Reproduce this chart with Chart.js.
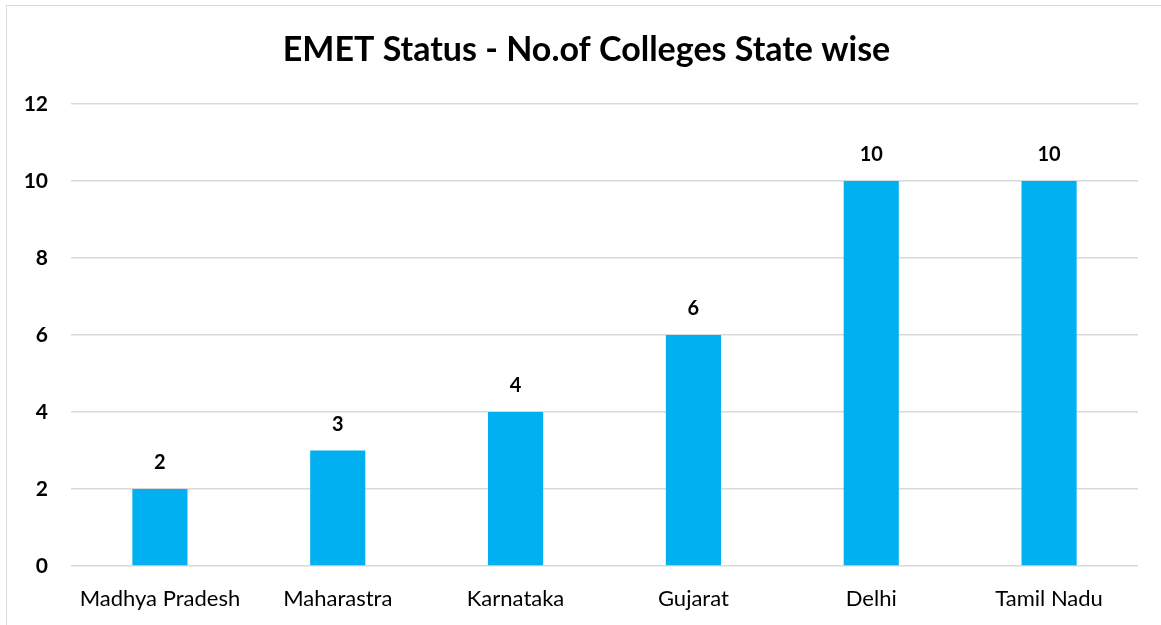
<!DOCTYPE html>
<html>
<head>
<meta charset="utf-8">
<script src="https://cdn.jsdelivr.net/npm/chart.js@4/dist/chart.umd.min.js"></script>
<style>
  html, body { margin: 0; padding: 0; background: #fff; overflow: hidden; }
  #frame { position: absolute; left: 6px; top: 5px; width: 1170px; height: 640px; border: 1px solid #d9d9d9; }
  #wrap { position: absolute; left: 0; top: 0; width: 1161px; height: 625px; }
</style>
</head>
<body>
<div id="frame"></div>
<div id="wrap"><canvas id="college-chart"></canvas></div>
<script>
// chart data
const chartTitle = 'EMET Status - No.of Colleges State wise'
const states = ["Madhya Pradesh", "Maharastra", "Karnataka", "Gujarat", "Delhi", "Tamil Nadu"]
const colleges = [2, 3, 4, 6, 10, 10]
const yTicks = [0, 2, 4, 6, 8, 10, 12]

// title centred on the outer frame, value labels above bars
const chartText = {
  id: 'chartText',
  afterDatasetsDraw(chart) {
    const ctx = chart.ctx
    const meta = chart.getDatasetMeta(0)
    ctx.save()
    ctx.fillStyle = '#000'
    ctx.textAlign = 'center'
    ctx.textBaseline = 'middle'
    ctx.font = 'bold 34px Lato'
    ctx.fillText(chartTitle, chart.width / 2 + 6, 50)
    ctx.font = 'bold 20px Lato'
    meta.data.forEach((bar, i) => {
      ctx.fillText(colleges[i], bar.x, bar.y - 26)
    })
    ctx.restore()
  }
}

new Chart(document.getElementById("college-chart"), {
  type: 'bar',
  data: {
    labels: states,
    datasets: [{
      data: colleges,
      backgroundColor: '#00B0F0',
      borderWidth: 0,
      categoryPercentage: 1,
      barPercentage: 0.31
    }]
  },
  options: {
    responsive: true,
    maintainAspectRatio: false,
    animation: false,
    layout: { padding: { left: 0, right: 23, top: 104, bottom: 0 } },
    plugins: {
      legend: { display: false },
      tooltip: { enabled: false },
      title: { display: false }
    },
    scales: {
      x: {
        grid: { display: false },
        border: { display: false },
        ticks: { color: '#000', font: { family: 'Lato', size: 22 }, padding: 12 },
        afterFit(scale) { scale.height = 59 }
      },
      y: {
        min: 0,
        max: 12,
        afterBuildTicks(scale) { scale.ticks = yTicks.map(v => ({ value: v })) },
        grid: { color: '#d9d9d9', lineWidth: 1.5, drawTicks: false },
        border: { display: false },
        ticks: { color: '#000', font: { family: 'Lato', size: 21, weight: 'bold' }, padding: 23 },
        afterFit(scale) { scale.width = 71 }
      }
    }
  },
  plugins: [chartText]
});
</script>
</body>
</html>
